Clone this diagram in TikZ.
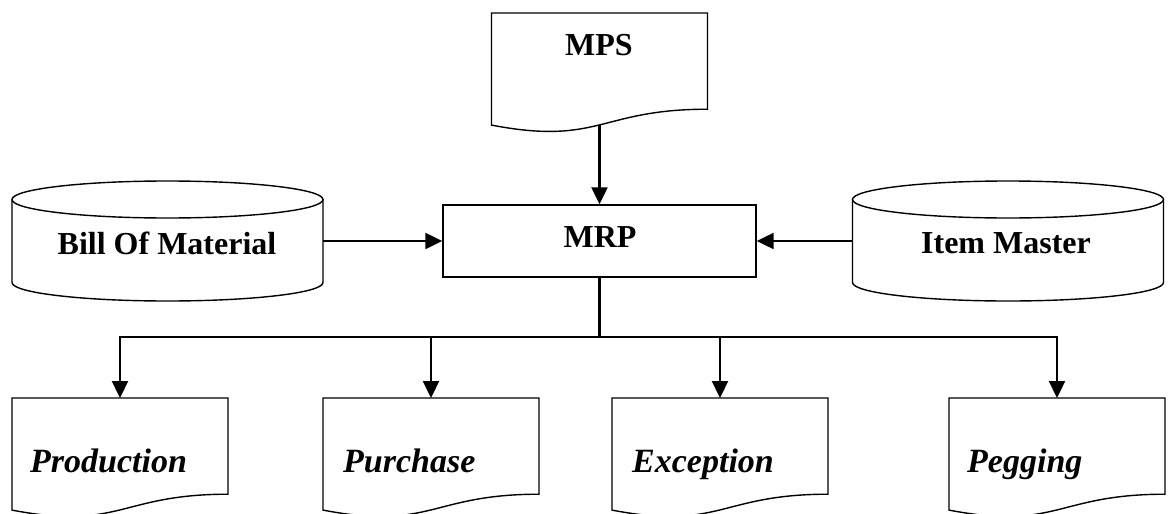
\documentclass[tikz,border=0pt]{standalone}
\usepackage{fontspec}
\setmainfont{Liberation Serif}
\usetikzlibrary{arrows.meta}

% Document (wavy-bottom) outline drawn on a frame node of width 216pt
\newcommand\docpath[1]{%
  \draw[outline, line join=miter] (#1.north west) -- (#1.north east)
    -- ([yshift=-96.2pt]#1.north east)
    .. controls ([shift={(108pt,-96.2pt)}]#1.north west) and ([shift={(108pt,-132.8pt)}]#1.north west)
    .. ([yshift=-112.1pt]#1.north west) -- cycle;}

% Vertical cylinder drawn round a frame node (its sides)
\newcommand\cylpath[1]{%
  \draw[outline] (#1.north west) -- (#1.south west)
    arc[start angle=180, end angle=360, x radius=155.5pt, y radius=18.5pt]
    -- (#1.north east);
  \draw[outline] (#1.north) ellipse[x radius=155.5pt, y radius=18.5pt];}

\begin{document}
\begin{tikzpicture}[x=1pt, y=-1pt,
  outline/.style={draw=black, line width=1.4pt},
  frame/.style={draw=none, inner sep=0pt, outer sep=0pt},
  flow/.style={line width=2.3pt, -{Triangle[length=17pt,width=16pt]}},
  link/.style={line width=2.3pt},
  lbl/.style={inner sep=0pt, font=\fontsize{32}{38}\selectfont\bfseries},
  ilbl/.style={inner sep=0pt, font=\fontsize{34}{40}\selectfont\bfseries\itshape},
  docframe/.style={frame, minimum width=216pt, minimum height=112pt, anchor=north},
]
\useasboundingbox (0,0) rectangle (1168,514);

% central process
\node[draw=black, line width=1.4pt, minimum width=313pt, minimum height=72pt, inner sep=0pt] (mrp) at (599.5,241) {};
\node[lbl, anchor=base] (mrptext) at (600,247) {MRP};

% master production schedule document
\node[docframe] (mps) at (599.5,13) {};
\docpath{mps}
\node[lbl, anchor=base] (mpstext) at (599,55) {MPS};

% data stores
\node[frame, minimum width=311pt, minimum height=83pt] (bom) at (167.5,241) {};
\cylpath{bom}
\node[lbl, anchor=base] (bomtext) at (167,254) {Bill Of Material};

\node[frame, minimum width=311pt, minimum height=83pt] (item) at (1008,241) {};
\cylpath{item}
\node[lbl, anchor=base] (itemtext) at (1006,253) {Item Master};

% output reports
\node[docframe] (prod) at (120,398) {};
\docpath{prod}
\node[ilbl, anchor=base west] (prodtext) at (30,472) {Production};

\node[docframe] (purch) at (431,398) {};
\docpath{purch}
\node[ilbl, anchor=base west] (purchtext) at (343,472) {Purchase};

\node[docframe] (exc) at (720,398) {};
\docpath{exc}
\node[ilbl, anchor=base west] (exctext) at (632,472) {Exception};

\node[docframe] (peg) at (1057,398) {};
\docpath{peg}
\node[ilbl, anchor=base west] (pegtext) at (967,472) {Pegging};

% connectors
\draw[flow] (mps.south) -- (mrp.north);
\draw[flow] (bom.east) -- (mrp.west);
\draw[flow] (item.west) -- (mrp.east);

\coordinate (split) at (599.5,337);
\draw[link] (mrp.south) -- (split);
\draw[flow] (split) -| (prod.north);
\draw[flow] (split) -| (purch.north);
\draw[flow] (split) -| (exc.north);
\draw[flow] (split) -| (peg.north);
\end{tikzpicture}
\end{document}
